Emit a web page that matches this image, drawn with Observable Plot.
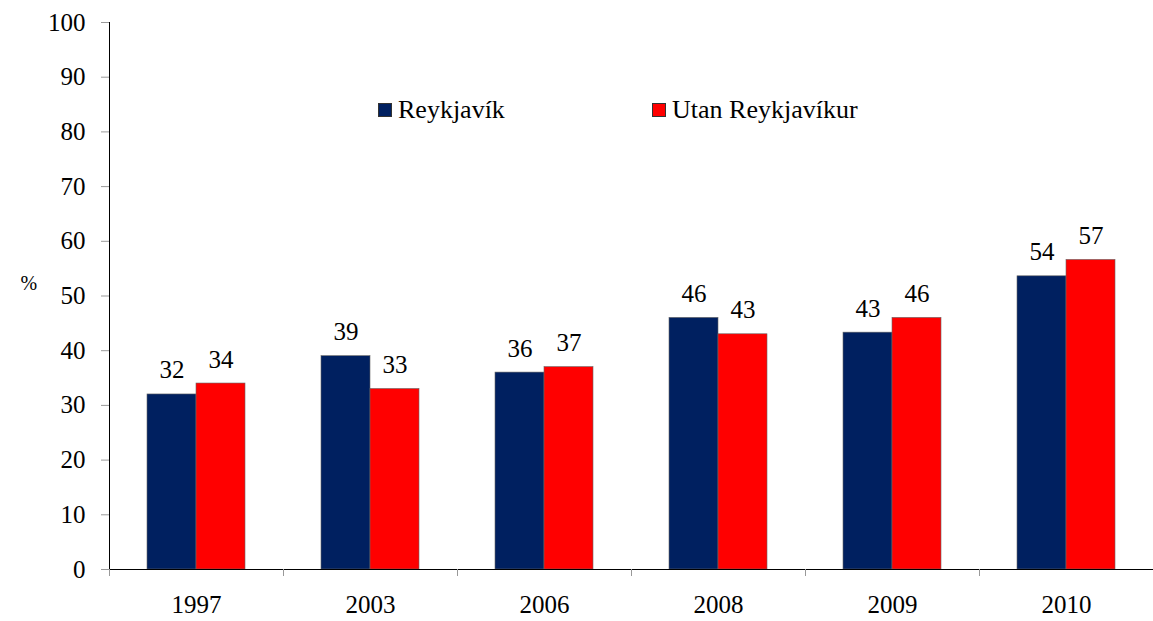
<!DOCTYPE html>
<html><head><meta charset="utf-8">
<script src="https://cdn.jsdelivr.net/npm/d3@7"></script>
<script src="https://cdn.jsdelivr.net/npm/@observablehq/plot@0.6"></script>
<style>
body{margin:0;background:#fff;}
#wrap{position:relative;width:1153px;height:621px;font-family:"Liberation Serif","DejaVu Serif","Times New Roman",Times,serif;}
#wrap svg, #wrap svg text{font-family:"Liberation Serif","DejaVu Serif","Times New Roman",Times,serif !important;}
.leg{position:absolute;top:95px;display:flex;align-items:center;font-size:26px;color:#000;white-space:nowrap;font-family:"Liberation Serif","DejaVu Serif",serif;}
.sw{display:inline-block;width:12px;height:12px;border:0.8px solid #333;margin-right:6px;}
</style>
</head><body><div id="wrap"></div>
<script>
const years = ["1997","2003","2006","2008","2009","2010"];
const seriesNames = ["Reykjavík","Utan Reykjavíkur"];
const reykjavik = [32,39,36,46,43.3,53.6];
const utan = [34,33,37,43,46,56.6];
const labelsReykjavik = ["32","39","36","46","43","54"];
const labelsUtan = ["34","33","37","43","46","57"];
const colors = ["#002060","#ff0000"];
const yTicks = [0,10,20,30,40,50,60,70,80,90,100];

const data = [];
years.forEach((y,i)=>{
  data.push({year:y, series:seriesNames[0], value:reykjavik[i], label:labelsReykjavik[i]});
  data.push({year:y, series:seriesNames[1], value:utan[i], label:labelsUtan[i]});
});

const W=1153, H=621, ML=109, MR=0, MT=22, MB=52;
const step=(W-ML-MR)/years.length;

const chart = Plot.plot({
  width:W, height:H, marginLeft:ML, marginRight:MR, marginTop:MT, marginBottom:MB,
  style:{fontSize:"25px", background:"#fff", color:"#000"},
  fx:{domain:years, padding:0, label:null},
  x:{domain:seriesNames, paddingInner:0, paddingOuter:0.76, axis:null},
  y:{domain:[0,100]},
  color:{domain:seriesNames, range:colors},
  marks:[
    Plot.barY(data,{fx:"year", x:"series", y:"value", fill:"series", stroke:"#666", strokeWidth:0.6}),
    Plot.text(data,{fx:"year", x:"series", y:"value", text:"label", dy:-24, fill:"#000"}),
    Plot.axisY({ticks:yTicks, tickSize:8, tickPadding:16, stroke:"#999", fill:"#000", label:null}),
    Plot.frame({anchor:"left", facetAnchor:"left", stroke:"#000"}),
    Plot.ruleY([0],{stroke:"#000"}),
    Plot.axisFx({anchor:"bottom", tickSize:7, text:null, dx:-step/2, stroke:"#999", label:null}),
    Plot.axisFx({anchor:"bottom", tickSize:0, tickPadding:26, fill:"#000", label:null}),
    Plot.text(["%"],{frameAnchor:"left", facetAnchor:"left", dx:-89, dy:-12, fill:"#000", fontSize:20})
  ]
});
const wrap=document.getElementById("wrap");
wrap.appendChild(chart);
seriesNames.forEach((s,i)=>{
  const d=document.createElement("div");
  d.className="leg";
  d.style.left=(i===0?378:652)+"px";
  d.innerHTML=`<span class="sw" style="background:${colors[i]}"></span><span>${s}</span>`;
  wrap.appendChild(d);
});
</script>
</body></html>
